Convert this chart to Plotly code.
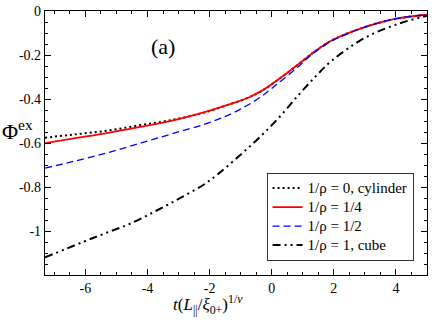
import plotly.graph_objects as go

# data
x_cyl = [-7.3, -6.42, -5.35, -4.28, -3.21, -2.13, -1.44, -0.74, -0.31, 0.0, 0.42, 0.87, 1.28, 1.94, 3.0, 4.0, 5.0]
y_cyl = [-0.576, -0.562, -0.545, -0.520, -0.495, -0.460, -0.428, -0.393, -0.362, -0.333, -0.290, -0.241, -0.195, -0.133, -0.073, -0.035, -0.017]

x_q = [-7.3, -6.42, -5.35, -4.28, -3.21, -2.13, -1.44, -0.74, -0.31, 0.0, 0.42, 0.87, 1.28, 1.94, 3.0, 4.0, 5.0]
y_q = [-0.601, -0.580, -0.556, -0.528, -0.498, -0.458, -0.428, -0.393, -0.362, -0.333, -0.290, -0.241, -0.195, -0.133, -0.073, -0.035, -0.017]

x_h = [-7.3, -6.42, -5.35, -4.28, -3.21, -2.13, -1.38, -0.74, -0.31, 0.0, 0.42, 0.92, 1.28, 1.94, 3.0, 4.0, 5.0]
y_h = [-0.714, -0.685, -0.647, -0.603, -0.558, -0.513, -0.472, -0.425, -0.386, -0.352, -0.304, -0.245, -0.199, -0.136, -0.073, -0.035, -0.017]

x_cube = [-7.3, -6.08, -5.32, -4.58, -3.72, -2.97, -2.22, -1.70, -1.06, -0.42, 0.23, 0.87, 1.41, 1.94, 3.0, 4.08, 5.0]
y_cube = [-1.12, -1.050, -1.008, -0.968, -0.908, -0.852, -0.792, -0.738, -0.660, -0.578, -0.485, -0.381, -0.298, -0.225, -0.122, -0.058, -0.022]

names = ["1/\u03c1 = 0, cylinder", "1/\u03c1 = 1/4", "1/\u03c1 = 1/2", "1/\u03c1 = 1, cube"]

y_tickvals = [0, -0.2, -0.4, -0.6, -0.8, -1]
y_ticktext = ["0", "-0.2", "-0.4", "-0.6", "-0.8", "-1"]
x_tickvals = [-6, -4, -2, 0, 2, 4]
x_ticktext = ["-6", "-4", "-2", "0", "2", "4"]

FONT = "Liberation Serif"


def big(s):
    # legend rows are spaced by the legend font size, so keep that small and enlarge the text itself
    return '<span style="font-size:15px">' + s + "</span>"


fig = go.Figure()
fig.add_trace(go.Scatter(x=x_cyl, y=y_cyl, mode="lines", name=big(names[0]),
                         line=dict(color="black", width=2, dash="2px,3px", shape="spline", smoothing=1)))
fig.add_trace(go.Scatter(x=x_q, y=y_q, mode="lines", name=big(names[1]),
                         line=dict(color="#ff0000", width=1.8, shape="spline", smoothing=1)))
fig.add_trace(go.Scatter(x=x_h, y=y_h, mode="lines", name=big(names[2]),
                         line=dict(color="#0000ff", width=1.3, dash="7px,4px", shape="spline", smoothing=1)))
fig.add_trace(go.Scatter(x=x_cube, y=y_cube, mode="lines", name=big(names[3]),
                         line=dict(color="black", width=2, dash="8px,4px,2px,4px,2px,4px",
                                   shape="spline", smoothing=1)))

axis_common = dict(showline=True, linecolor="black", linewidth=1.3, mirror="allticks",
                   ticks="inside", ticklen=6, tickcolor="black", tickwidth=1,
                   showgrid=False, zeroline=False, ticklabeloverflow="allow",
                   tickfont=dict(family=FONT, size=14, color="black"))

fig.update_xaxes(range=[-7.3, 5], tickvals=x_tickvals, ticktext=x_ticktext,
                 minor=dict(ticks="inside", ticklen=3, dtick=0.5, tick0=0, tickcolor="black"),
                 **axis_common)
fig.update_yaxes(range=[-1.2, 0], tickvals=y_tickvals, ticktext=y_ticktext,
                 minor=dict(ticks="inside", ticklen=3, dtick=0.05, tick0=0, tickcolor="black"),
                 **axis_common)

fig.add_annotation(text="\u03a6<sup>ex</sup>", xref="paper", yref="paper", x=-0.118, y=0.55,
                   xanchor="left", yanchor="middle", showarrow=False,
                   font=dict(family=FONT, size=22, color="black"))
fig.add_annotation(text="(a)", xref="paper", yref="paper", x=0.31, y=0.866,
                   xanchor="center", yanchor="middle",
                   showarrow=False, font=dict(family=FONT, size=22, color="black"))
fig.add_annotation(text="<i>t</i>(<i>L</i><sub>||</sub>/<i>\u03be</i><sub>0+</sub>)<sup>1/<i>\u03bd</i></sup>",
                   xref="paper", yref="paper", x=0.426, y=-0.11, xanchor="center", yanchor="middle",
                   showarrow=False, font=dict(family=FONT, size=17, color="black"))

fig.update_layout(
    width=432, height=320,
    margin=dict(l=45, r=4, t=7, b=45),
    paper_bgcolor="white", plot_bgcolor="white",
    font=dict(family=FONT, size=14, color="black"),
    legend=dict(x=0.58, y=0.388, xanchor="left", yanchor="top",
                bgcolor="white", bordercolor="#333333", borderwidth=1,
                font=dict(family=FONT, size=12, color="black"),
                itemwidth=30, tracegroupgap=0),
    showlegend=True,
)

fig.write_html("out.html", config={"displayModeBar": False},
               post_script="document.body.style.margin='0';")
